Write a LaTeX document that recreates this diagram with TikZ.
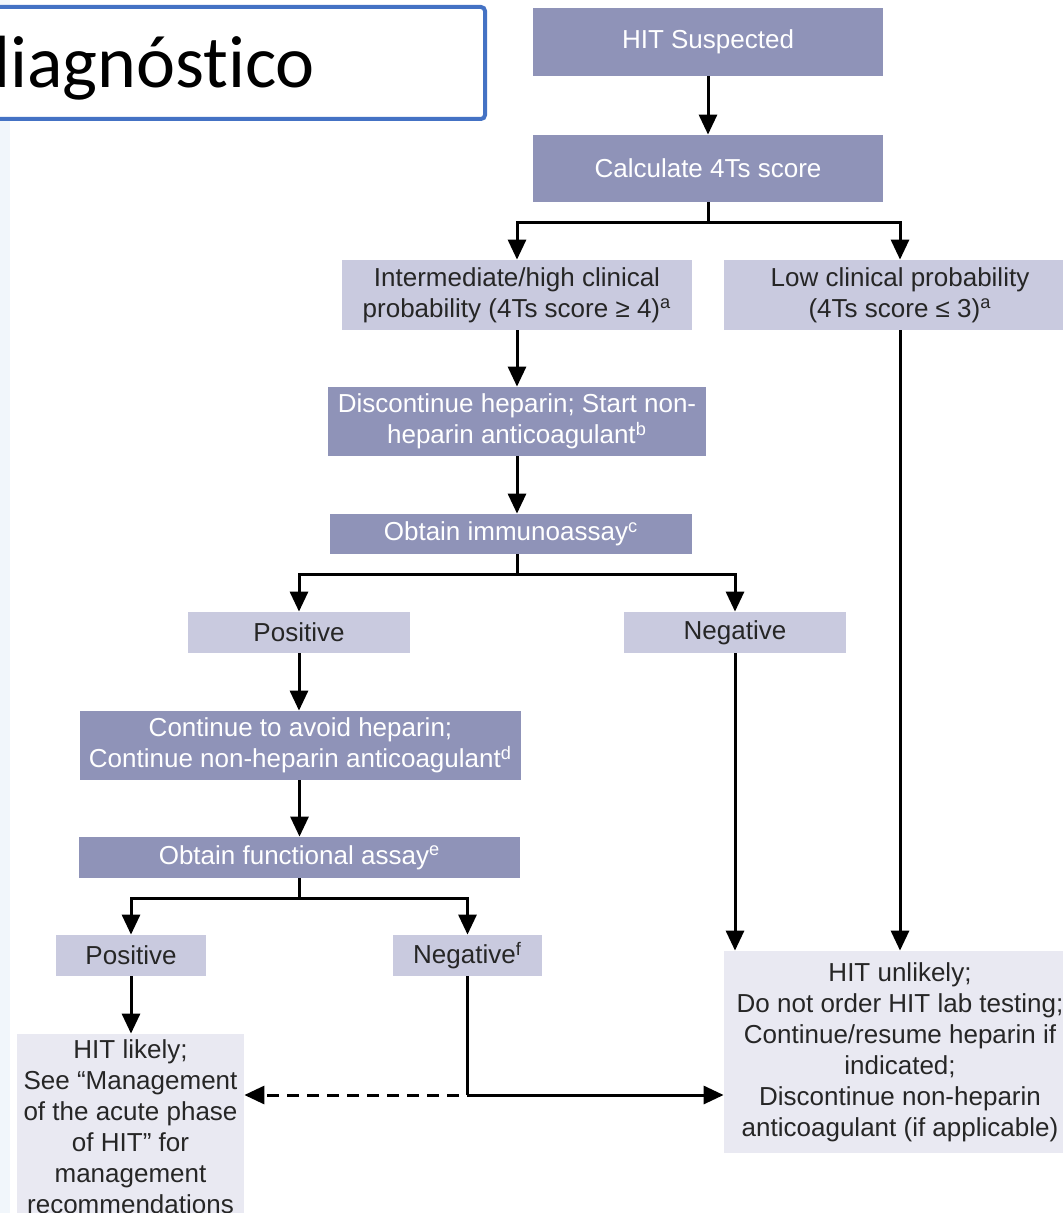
\documentclass[tikz,border=0pt]{standalone}
\usepackage{fontspec}
\setmainfont{Liberation Sans}
\newfontfamily\titlefont[Ligatures=NoCommon]{Carlito}
\usetikzlibrary{arrows.meta}
\definecolor{boxdark}{HTML}{8F93B8}
\definecolor{boxlight}{HTML}{C9CADF}
\definecolor{boxpale}{HTML}{E9E9F2}
\definecolor{titleblue}{HTML}{4472C4}
\definecolor{stripblue}{HTML}{F1F6FB}
\tikzset{
	flowbox/.style={inner sep=0pt, align=center, font=\fontsize{13}{15.5}\selectfont},
	darkbox/.style={flowbox, fill=boxdark, text=white},
	lightbox/.style={flowbox, fill=boxlight, text=black!85},
	palebox/.style={flowbox, fill=boxpale, text=black!85},
	line/.style={line width=1.5pt},
	arr/.style={line, -{Triangle[length=10pt, width=9pt]}},
}
\begin{document}
\begin{tikzpicture}[x=0.5pt, y=-0.5pt]
	\useasboundingbox (0,0) rectangle (1063,1213);
	\clip (0,0) rectangle (1063,1213);
	\fill[stripblue] (0,0) rectangle (10,1213);
	\draw[titleblue, line width=2pt, rounded corners=2pt, fill=white] (-20,7) rectangle (485,119);
	\node[anchor=base west, inner sep=0pt, font=\titlefont\fontsize{37}{40}\selectfont] (ttl) at (-29,88) {diagnóstico};
	\node[darkbox, minimum width=175pt, minimum height=34pt] (susp) at (708,42) {HIT Suspected};
	\node[darkbox, minimum width=175pt, minimum height=33.5pt] (calc) at (708,168.5) {Calculate 4Ts score};
	\node[lightbox, minimum width=175pt, minimum height=35pt] (inter) at (517,295) {Intermediate/high clinical\\probability (4Ts score ≥ 4)\textsuperscript{a}};
	\node[lightbox, minimum width=176pt, minimum height=35pt] (low) at (900,295) {Low clinical probability\\(4Ts score ≤ 3)\textsuperscript{a}};
	\node[darkbox, minimum width=189pt, minimum height=34.5pt] (disc) at (517,421.5) {Discontinue heparin; Start non-\\heparin anticoagulant\textsuperscript{b}};
	\node[darkbox, minimum width=181pt, minimum height=20pt] (immuno) at (511,534) {Obtain immunoassay\textsuperscript{c}};
	\node[lightbox, minimum width=111pt, minimum height=20.5pt] (posA) at (299,632.5) {Positive};
	\node[lightbox, minimum width=111pt, minimum height=20.5pt] (negA) at (735,632.5) {Negative};
	\node[darkbox, minimum width=220.5pt, minimum height=34.5pt] (cont) at (300.5,745.5) {Continue to avoid heparin;\\Continue non-heparin anticoagulant\textsuperscript{d}};
	\node[darkbox, minimum width=220.5pt, minimum height=20.5pt] (func) at (299.5,857.5) {Obtain functional assay\textsuperscript{e}};
	\node[lightbox, minimum width=75pt, minimum height=20.5pt] (posB) at (131,955.5) {Positive};
	\node[lightbox, minimum width=74.5pt, minimum height=20.5pt] (negB) at (467.5,955.5) {Negative\textsuperscript{f}};
	\node[palebox, minimum width=113.5pt, minimum height=93pt] (likely) at (130.5,1127) {HIT likely;\\See “Management\\of the acute phase\\of HIT” for\\management\\recommendations};
	\node[palebox, minimum width=176pt, minimum height=101pt] (unlikely) at (900,1052) {HIT unlikely;\\Do not order HIT lab testing;\\Continue/resume heparin if\\indicated;\\Discontinue non-heparin\\anticoagulant (if applicable)};
	\coordinate (forkA) at ([yshift=-10pt]calc.south);
	\coordinate (forkB) at ([yshift=-10pt]disc.south |- immuno.south);
	\coordinate (forkC) at ([yshift=-10pt]func.south);
	\coordinate (meet) at (467,1095);
	\path[arr]
	(susp) edge (calc)
	(inter) edge (disc)
	(disc.south) edge (disc.south |- immuno.north)
	(posA.south) edge (posA.south |- cont.north)
	(cont.south -| func) edge (func.north)
	(posB) edge (posB.south |- likely.north)
	(negA) edge (negA.south |- unlikely.north)
	(low) edge (unlikely);
	\draw[line] (calc.south) -- (forkA);
	\draw[arr] (forkA) -| (inter.north);
	\draw[arr] (forkA) -| (low.north);
	\draw[line] (disc.south |- immuno.south) -- (forkB);
	\draw[arr] (forkB) -| (posA.north);
	\draw[arr] (forkB) -| (negA.north);
	\draw[line] (func.south) -- (forkC);
	\draw[arr] (forkC) -| (posB.north);
	\draw[arr] (forkC) -| (negB.north);
	\draw[line] (negB.south -| meet) -- (meet);
	\draw[arr] (meet) -- (meet -| unlikely.west);
	\draw[arr, dash pattern=on 6pt off 4pt] ([xshift=-4pt]meet) -- (meet -| likely.east);
\end{tikzpicture}
\end{document}
